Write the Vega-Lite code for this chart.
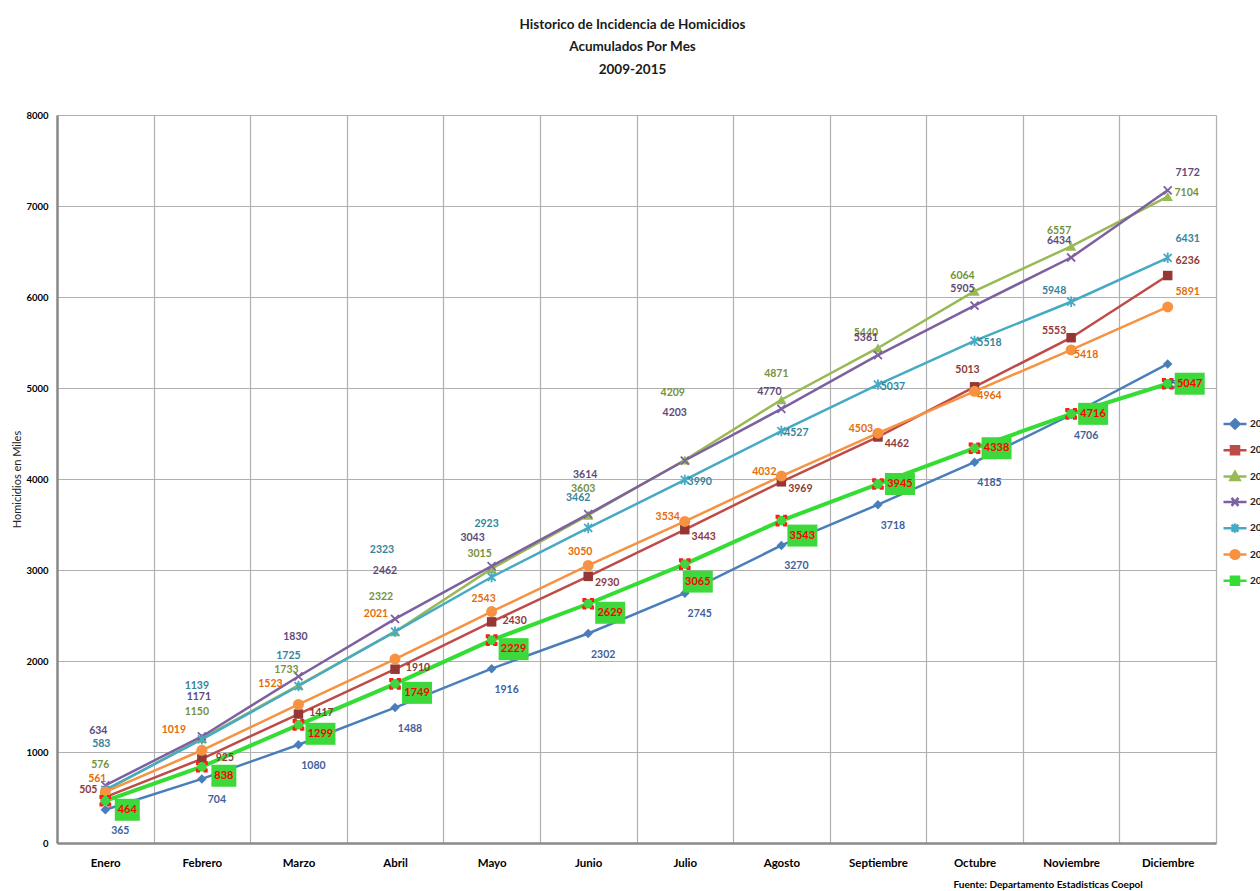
{
  "$schema": "https://vega.github.io/schema/vega-lite/v6.json",
  "width": 1159,
  "height": 728,
  "autosize": {"type": "none"},
  "padding": {"left": 57, "top": 115, "right": 44, "bottom": 48},
  "background": "white",
  "title": {
    "text": ["Historico de Incidencia de Homicidios", "Acumulados Por Mes", "2009-2015"],
    "font": "Lato",
    "fontSize": 13.5,
    "fontWeight": "bold",
    "lineHeight": 22.5,
    "offset": 34,
    "dx": -4,
    "color": "#1a1a1a",
    "anchor": "middle"
  },
  "data": {
    "values": [
      {"mes": "Enero", "year": "2009", "v": 365}, {"mes": "Febrero", "year": "2009", "v": 704}, {"mes": "Marzo", "year": "2009", "v": 1080}, {"mes": "Abril", "year": "2009", "v": 1488}, {"mes": "Mayo", "year": "2009", "v": 1916}, {"mes": "Junio", "year": "2009", "v": 2302}, {"mes": "Julio", "year": "2009", "v": 2745}, {"mes": "Agosto", "year": "2009", "v": 3270}, {"mes": "Septiembre", "year": "2009", "v": 3718}, {"mes": "Octubre", "year": "2009", "v": 4185}, {"mes": "Noviembre", "year": "2009", "v": 4706}, {"mes": "Diciembre", "year": "2009", "v": 5264},
      {"mes": "Enero", "year": "2010", "v": 505}, {"mes": "Febrero", "year": "2010", "v": 925}, {"mes": "Marzo", "year": "2010", "v": 1417}, {"mes": "Abril", "year": "2010", "v": 1910}, {"mes": "Mayo", "year": "2010", "v": 2430}, {"mes": "Junio", "year": "2010", "v": 2930}, {"mes": "Julio", "year": "2010", "v": 3443}, {"mes": "Agosto", "year": "2010", "v": 3969}, {"mes": "Septiembre", "year": "2010", "v": 4462}, {"mes": "Octubre", "year": "2010", "v": 5013}, {"mes": "Noviembre", "year": "2010", "v": 5553}, {"mes": "Diciembre", "year": "2010", "v": 6236},
      {"mes": "Enero", "year": "2011", "v": 576}, {"mes": "Febrero", "year": "2011", "v": 1150}, {"mes": "Marzo", "year": "2011", "v": 1733}, {"mes": "Abril", "year": "2011", "v": 2322}, {"mes": "Mayo", "year": "2011", "v": 3015}, {"mes": "Junio", "year": "2011", "v": 3603}, {"mes": "Julio", "year": "2011", "v": 4209}, {"mes": "Agosto", "year": "2011", "v": 4871}, {"mes": "Septiembre", "year": "2011", "v": 5440}, {"mes": "Octubre", "year": "2011", "v": 6064}, {"mes": "Noviembre", "year": "2011", "v": 6557}, {"mes": "Diciembre", "year": "2011", "v": 7104},
      {"mes": "Enero", "year": "2012", "v": 634}, {"mes": "Febrero", "year": "2012", "v": 1171}, {"mes": "Marzo", "year": "2012", "v": 1830}, {"mes": "Abril", "year": "2012", "v": 2462}, {"mes": "Mayo", "year": "2012", "v": 3043}, {"mes": "Junio", "year": "2012", "v": 3614}, {"mes": "Julio", "year": "2012", "v": 4203}, {"mes": "Agosto", "year": "2012", "v": 4770}, {"mes": "Septiembre", "year": "2012", "v": 5361}, {"mes": "Octubre", "year": "2012", "v": 5905}, {"mes": "Noviembre", "year": "2012", "v": 6434}, {"mes": "Diciembre", "year": "2012", "v": 7172},
      {"mes": "Enero", "year": "2013", "v": 583}, {"mes": "Febrero", "year": "2013", "v": 1139}, {"mes": "Marzo", "year": "2013", "v": 1725}, {"mes": "Abril", "year": "2013", "v": 2323}, {"mes": "Mayo", "year": "2013", "v": 2923}, {"mes": "Junio", "year": "2013", "v": 3462}, {"mes": "Julio", "year": "2013", "v": 3990}, {"mes": "Agosto", "year": "2013", "v": 4527}, {"mes": "Septiembre", "year": "2013", "v": 5037}, {"mes": "Octubre", "year": "2013", "v": 5518}, {"mes": "Noviembre", "year": "2013", "v": 5948}, {"mes": "Diciembre", "year": "2013", "v": 6431},
      {"mes": "Enero", "year": "2014", "v": 561}, {"mes": "Febrero", "year": "2014", "v": 1019}, {"mes": "Marzo", "year": "2014", "v": 1523}, {"mes": "Abril", "year": "2014", "v": 2021}, {"mes": "Mayo", "year": "2014", "v": 2543}, {"mes": "Junio", "year": "2014", "v": 3050}, {"mes": "Julio", "year": "2014", "v": 3534}, {"mes": "Agosto", "year": "2014", "v": 4032}, {"mes": "Septiembre", "year": "2014", "v": 4503}, {"mes": "Octubre", "year": "2014", "v": 4964}, {"mes": "Noviembre", "year": "2014", "v": 5418}, {"mes": "Diciembre", "year": "2014", "v": 5891},
      {"mes": "Enero", "year": "2015", "v": 464}, {"mes": "Febrero", "year": "2015", "v": 838}, {"mes": "Marzo", "year": "2015", "v": 1299}, {"mes": "Abril", "year": "2015", "v": 1749}, {"mes": "Mayo", "year": "2015", "v": 2229}, {"mes": "Junio", "year": "2015", "v": 2629}, {"mes": "Julio", "year": "2015", "v": 3065}, {"mes": "Agosto", "year": "2015", "v": 3543}, {"mes": "Septiembre", "year": "2015", "v": 3945}, {"mes": "Octubre", "year": "2015", "v": 4338}, {"mes": "Noviembre", "year": "2015", "v": 4716}, {"mes": "Diciembre", "year": "2015", "v": 5047}
    ]
  },
  "encoding": {
    "x": {
      "field": "mes",
      "type": "ordinal",
      "sort": ["Enero", "Febrero", "Marzo", "Abril", "Mayo", "Junio", "Julio", "Agosto", "Septiembre", "Octubre", "Noviembre", "Diciembre"],
      "scale": {"type": "band", "paddingInner": 0, "paddingOuter": 0},
      "axis": {
        "title": "Fuente: Departamento Estadisticas Coepol",
        "titleX": 896,
        "titleY": 41,
        "titleAlign": "left",
        "titleBaseline": "middle",
        "titleFont": "Lato",
        "titleFontSize": 10,
        "titleFontWeight": "bold",
        "titleColor": "#000000",
        "labelAngle": 0,
        "labelFont": "Lato",
        "labelFontSize": 11.5,
        "labelFontWeight": "bold",
        "labelColor": "#000000",
        "labelPadding": 14,
        "ticks": false,
        "tickBand": "extent",
        "grid": true,
        "gridColor": "#b0b0b0",
        "gridWidth": 1.2,
        "domainColor": "#8a8a8a",
        "domainWidth": 2.5
      }
    },
    "y": {
      "field": "v",
      "type": "quantitative",
      "scale": {"domain": [0, 8000], "nice": false},
      "axis": {
        "title": "Homicidios en Miles",
        "titleX": -40,
        "titleY": 364,
        "titleAngle": 270,
        "titleAlign": "center",
        "titleBaseline": "middle",
        "titleFont": "Lato",
        "titleFontSize": 11,
        "titleFontWeight": "normal",
        "titleColor": "#222222",
        "values": [0, 1000, 2000, 3000, 4000, 5000, 6000, 7000, 8000],
        "format": "d",
        "labelFont": "Lato",
        "labelFontSize": 9.5,
        "labelFontWeight": "bold",
        "labelColor": "#000000",
        "labelPadding": 9,
        "ticks": false,
        "grid": true,
        "gridColor": "#b0b0b0",
        "gridWidth": 1.2,
        "domainColor": "#8a8a8a",
        "domainWidth": 2.5
      }
    }
  },
  "layer": [
    {
      "mark": {"type": "line"},
      "encoding": {
        "color": {
          "field": "year",
          "type": "nominal",
          "scale": {
            "domain": ["2009", "2010", "2011", "2012", "2013", "2014", "2015"],
            "range": ["#4A7EBB", "#BE4B48", "#98B954", "#7D60A0", "#46AAC5", "#F69240", "#33DD33"]
          },
          "legend": {
            "title": null,
            "orient": "none",
            "legendX": 1165,
            "legendY": 296,
            "symbolSize": 529,
            "rowPadding": 3.3,
            "labelOffset": 2,
            "labelFont": "Lato",
            "labelFontSize": 10,
            "labelFontWeight": "bold",
            "labelColor": "#222222",
            "padding": 0,
            "encode": {
              "symbols": {
                "update": {
                  "shape": {"signal": "datum.value==='2009'?'M-1,0H1M0,-0.4L0.4,0L0,0.4L-0.4,0Z':datum.value==='2010'?'M-1,0H1M-0.35,-0.35H0.35V0.35H-0.35Z':datum.value==='2011'?'M-1,0H1M0,-0.42L0.4,0.3H-0.4Z':datum.value==='2012'?'M-1,0H1M-0.3,-0.35L0.3,0.35M-0.3,0.35L0.3,-0.35':datum.value==='2013'?'M-1,0H1M-0.3,-0.3L0.3,0.3M-0.3,0.3L0.3,-0.3M0,-0.4V0.4':datum.value==='2014'?'M-1,0H1M0.38,0A0.38,0.38,0,1,1,-0.38,0A0.38,0.38,0,1,1,0.38,0Z':'M-1,0H1M-0.35,-0.35H0.35V0.35H-0.35Z'"},
                  "fill": {"scale": "color", "field": "value"},
                  "stroke": {"scale": "color", "field": "value"},
                  "strokeWidth": {"value": 2.5},
                  "opacity": {"value": 1}
                }
              }
            }
          }
        },
        "strokeWidth": {"condition": {"test": "datum.year=='2015'", "value": 4}, "value": 2.5}
      }
    },
    {"transform": [{"filter": "datum.year=='2009'"}], "mark": {"type": "point", "shape": "diamond", "filled": true, "fill": "#4A7EBB", "opacity": 1, "size": 90}},
    {"transform": [{"filter": "datum.year=='2010'"}], "mark": {"type": "point", "shape": "square", "filled": true, "fill": "#953735", "opacity": 1, "size": 90}},
    {"transform": [{"filter": "datum.year=='2011'"}], "mark": {"type": "point", "shape": "triangle-up", "filled": true, "fill": "#98B954", "opacity": 1, "size": 110}},
    {"transform": [{"filter": "datum.year=='2012'"}], "mark": {"type": "point", "shape": "M-1,-1L1,1M-1,1L1,-1", "filled": false, "stroke": "#7D60A0", "strokeWidth": 1.8, "opacity": 1, "size": 64}},
    {"transform": [{"filter": "datum.year=='2013'"}], "mark": {"type": "point", "shape": "M-1,-1L1,1M-1,1L1,-1M0,-1.3V1.3", "filled": false, "stroke": "#46AAC5", "strokeWidth": 1.8, "opacity": 1, "size": 64}},
    {"transform": [{"filter": "datum.year=='2014'"}], "mark": {"type": "point", "shape": "circle", "filled": true, "fill": "#F69240", "opacity": 1, "size": 120}},
    {"transform": [{"filter": "datum.year=='2015'"}], "mark": {"type": "point", "shape": "square", "size": 90, "filled": true, "fill": "#3CD83C", "stroke": "#ff1a1a", "strokeWidth": 2.2, "strokeDash": [3, 3.5, 3, 0], "opacity": 1}},

    {"transform": [{"filter": "datum.year=='2009'"}], "mark": {"type": "text", "dx": 15, "dy": 21, "color": "#3F5F9C"}, "encoding": {"text": {"field": "v", "type": "quantitative", "format": "d"}}},

    {"transform": [{"filter": "datum.year=='2010' && indexof(['Febrero','Marzo','Abril','Mayo'], datum.mes) >= 0"}], "mark": {"type": "text", "dx": 23, "dy": -1, "color": "#8E3A38"}, "encoding": {"text": {"field": "v", "type": "quantitative", "format": "d"}}},
    {"transform": [{"filter": "datum.year=='2010' && indexof(['Junio','Julio','Agosto','Septiembre'], datum.mes) >= 0"}], "mark": {"type": "text", "dx": 19, "dy": 7, "color": "#8E3A38"}, "encoding": {"text": {"field": "v", "type": "quantitative", "format": "d"}}},
    {"transform": [{"filter": "datum.year=='2010' && indexof(['Enero','Noviembre'], datum.mes) >= 0"}], "mark": {"type": "text", "dx": -17, "dy": -7, "color": "#8E3A38"}, "encoding": {"text": {"field": "v", "type": "quantitative", "format": "d"}}},
    {"transform": [{"filter": "datum.year=='2010' && datum.mes=='Octubre'"}], "mark": {"type": "text", "dx": -7, "dy": -17, "color": "#8E3A38"}, "encoding": {"text": {"field": "v", "type": "quantitative", "format": "d"}}},
    {"transform": [{"filter": "datum.year=='2010' && datum.mes=='Diciembre'"}], "mark": {"type": "text", "dx": 20, "dy": -15, "color": "#8E3A38"}, "encoding": {"text": {"field": "v", "type": "quantitative", "format": "d"}}},

    {"transform": [{"filter": "datum.year=='2011' && indexof(['Enero','Febrero','Junio','Agosto'], datum.mes) >= 0"}], "mark": {"type": "text", "dx": -5, "dy": -26, "color": "#76923C"}, "encoding": {"text": {"field": "v", "type": "quantitative", "format": "d"}}},
    {"transform": [{"filter": "datum.year=='2011' && indexof(['Marzo','Mayo','Septiembre','Octubre','Noviembre'], datum.mes) >= 0"}], "mark": {"type": "text", "dx": -12, "dy": -15, "color": "#76923C"}, "encoding": {"text": {"field": "v", "type": "quantitative", "format": "d"}}},
    {"transform": [{"filter": "datum.year=='2011' && datum.mes=='Abril'"}], "mark": {"type": "text", "dx": -14, "dy": -35, "color": "#76923C"}, "encoding": {"text": {"field": "v", "type": "quantitative", "format": "d"}}},
    {"transform": [{"filter": "datum.year=='2011' && datum.mes=='Julio'"}], "mark": {"type": "text", "dx": -12, "dy": -67, "color": "#76923C"}, "encoding": {"text": {"field": "v", "type": "quantitative", "format": "d"}}},
    {"transform": [{"filter": "datum.year=='2011' && datum.mes=='Diciembre'"}], "mark": {"type": "text", "dx": 19, "dy": -4, "color": "#76923C"}, "encoding": {"text": {"field": "v", "type": "quantitative", "format": "d"}}},

    {"transform": [{"filter": "datum.year=='2012' && datum.mes=='Enero'"}], "mark": {"type": "text", "dx": -7, "dy": -54, "color": "#5F497A"}, "encoding": {"text": {"field": "v", "type": "quantitative", "format": "d"}}},
    {"transform": [{"filter": "datum.year=='2012' && indexof(['Abril','Julio'], datum.mes) >= 0"}], "mark": {"type": "text", "dx": -10, "dy": -48, "color": "#5F497A"}, "encoding": {"text": {"field": "v", "type": "quantitative", "format": "d"}}},
    {"transform": [{"filter": "datum.year=='2012' && indexof(['Febrero','Marzo','Junio'], datum.mes) >= 0"}], "mark": {"type": "text", "dx": -3, "dy": -39, "color": "#5F497A"}, "encoding": {"text": {"field": "v", "type": "quantitative", "format": "d"}}},
    {"transform": [{"filter": "datum.year=='2012' && datum.mes=='Mayo'"}], "mark": {"type": "text", "dx": -19, "dy": -28, "color": "#5F497A"}, "encoding": {"text": {"field": "v", "type": "quantitative", "format": "d"}}},
    {"transform": [{"filter": "datum.year=='2012' && indexof(['Agosto','Septiembre','Octubre','Noviembre'], datum.mes) >= 0"}], "mark": {"type": "text", "dx": -12, "dy": -17, "color": "#5F497A"}, "encoding": {"text": {"field": "v", "type": "quantitative", "format": "d"}}},
    {"transform": [{"filter": "datum.year=='2012' && datum.mes=='Diciembre'"}], "mark": {"type": "text", "dx": 20, "dy": -17, "color": "#5F497A"}, "encoding": {"text": {"field": "v", "type": "quantitative", "format": "d"}}},

    {"transform": [{"filter": "datum.year=='2013' && datum.mes=='Enero'"}], "mark": {"type": "text", "dx": -4, "dy": -46, "color": "#31859C"}, "encoding": {"text": {"field": "v", "type": "quantitative", "format": "d"}}},
    {"transform": [{"filter": "datum.year=='2013' && indexof(['Febrero','Mayo'], datum.mes) >= 0"}], "mark": {"type": "text", "dx": -5, "dy": -53, "color": "#31859C"}, "encoding": {"text": {"field": "v", "type": "quantitative", "format": "d"}}},
    {"transform": [{"filter": "datum.year=='2013' && indexof(['Marzo','Junio'], datum.mes) >= 0"}], "mark": {"type": "text", "dx": -10, "dy": -30, "color": "#31859C"}, "encoding": {"text": {"field": "v", "type": "quantitative", "format": "d"}}},
    {"transform": [{"filter": "datum.year=='2013' && datum.mes=='Abril'"}], "mark": {"type": "text", "dx": -13, "dy": -82, "color": "#31859C"}, "encoding": {"text": {"field": "v", "type": "quantitative", "format": "d"}}},
    {"transform": [{"filter": "datum.year=='2013' && indexof(['Julio','Agosto','Septiembre','Octubre'], datum.mes) >= 0"}], "mark": {"type": "text", "dx": 15, "dy": 2, "color": "#31859C"}, "encoding": {"text": {"field": "v", "type": "quantitative", "format": "d"}}},
    {"transform": [{"filter": "datum.year=='2013' && datum.mes=='Noviembre'"}], "mark": {"type": "text", "dx": -17, "dy": -11, "color": "#31859C"}, "encoding": {"text": {"field": "v", "type": "quantitative", "format": "d"}}},
    {"transform": [{"filter": "datum.year=='2013' && datum.mes=='Diciembre'"}], "mark": {"type": "text", "dx": 20, "dy": -19, "color": "#31859C"}, "encoding": {"text": {"field": "v", "type": "quantitative", "format": "d"}}},

    {"transform": [{"filter": "datum.year=='2014' && indexof(['Enero','Mayo','Junio'], datum.mes) >= 0"}], "mark": {"type": "text", "dx": -8, "dy": -13, "color": "#E46C0A"}, "encoding": {"text": {"field": "v", "type": "quantitative", "format": "d"}}},
    {"transform": [{"filter": "datum.year=='2014' && indexof(['Febrero','Marzo'], datum.mes) >= 0"}], "mark": {"type": "text", "dx": -28, "dy": -20, "color": "#E46C0A"}, "encoding": {"text": {"field": "v", "type": "quantitative", "format": "d"}}},
    {"transform": [{"filter": "datum.year=='2014' && datum.mes=='Abril'"}], "mark": {"type": "text", "dx": -19, "dy": -45, "color": "#E46C0A"}, "encoding": {"text": {"field": "v", "type": "quantitative", "format": "d"}}},
    {"transform": [{"filter": "datum.year=='2014' && indexof(['Julio','Agosto','Septiembre'], datum.mes) >= 0"}], "mark": {"type": "text", "dx": -17, "dy": -4, "color": "#E46C0A"}, "encoding": {"text": {"field": "v", "type": "quantitative", "format": "d"}}},
    {"transform": [{"filter": "datum.year=='2014' && indexof(['Octubre','Noviembre'], datum.mes) >= 0"}], "mark": {"type": "text", "dx": 15, "dy": 5, "color": "#E46C0A"}, "encoding": {"text": {"field": "v", "type": "quantitative", "format": "d"}}},
    {"transform": [{"filter": "datum.year=='2014' && datum.mes=='Diciembre'"}], "mark": {"type": "text", "dx": 20, "dy": -15, "color": "#E46C0A"}, "encoding": {"text": {"field": "v", "type": "quantitative", "format": "d"}}},

    {"transform": [{"filter": "datum.year=='2015' && indexof(['Enero','Febrero','Marzo','Abril','Mayo','Junio'], datum.mes) >= 0"}], "mark": {"type": "point", "filled": true, "fill": "#3CD83C", "size": 400, "opacity": 1, "strokeWidth": 0}, "encoding": {"shape": {"condition": {"test": "datum.v < 1000", "value": "M0.95,-0.2H3.45V2H0.95Z"}, "value": "M0.7,-0.2H3.7V2H0.7Z"}}},
    {"transform": [{"filter": "datum.year=='2015' && datum.mes=='Julio'"}], "mark": {"type": "point", "filled": true, "fill": "#3CD83C", "size": 400, "opacity": 1, "strokeWidth": 0, "shape": "M-0.2,0.65H2.8V2.85H-0.2Z"}},
    {"transform": [{"filter": "datum.year=='2015' && datum.mes=='Agosto'"}], "mark": {"type": "point", "filled": true, "fill": "#3CD83C", "size": 400, "opacity": 1, "strokeWidth": 0, "shape": "M0.6,0.4H3.6V2.6H0.6Z"}},
    {"transform": [{"filter": "datum.year=='2015' && indexof(['Septiembre','Octubre','Noviembre','Diciembre'], datum.mes) >= 0"}], "mark": {"type": "point", "filled": true, "fill": "#3CD83C", "size": 400, "opacity": 1, "strokeWidth": 0, "shape": "M0.7,-1.1H3.7V1.1H0.7Z"}},

    {"transform": [{"filter": "datum.year=='2015' && indexof(['Enero','Febrero','Marzo','Abril','Mayo','Junio'], datum.mes) >= 0"}], "mark": {"type": "text", "dx": 22, "dy": 9, "color": "#FF0000", "fontSize": 11}, "encoding": {"text": {"field": "v", "type": "quantitative", "format": "d"}}},
    {"transform": [{"filter": "datum.year=='2015' && datum.mes=='Julio'"}], "mark": {"type": "text", "dx": 13, "dy": 17.5, "color": "#FF0000", "fontSize": 11}, "encoding": {"text": {"field": "v", "type": "quantitative", "format": "d"}}},
    {"transform": [{"filter": "datum.year=='2015' && datum.mes=='Agosto'"}], "mark": {"type": "text", "dx": 21, "dy": 15, "color": "#FF0000", "fontSize": 11}, "encoding": {"text": {"field": "v", "type": "quantitative", "format": "d"}}},
    {"transform": [{"filter": "datum.year=='2015' && indexof(['Septiembre','Octubre','Noviembre','Diciembre'], datum.mes) >= 0"}], "mark": {"type": "text", "dx": 22, "dy": 0, "color": "#FF0000", "fontSize": 11}, "encoding": {"text": {"field": "v", "type": "quantitative", "format": "d"}}}
  ],
  "config": {
    "view": {"stroke": null},
    "text": {"font": "Lato", "fontSize": 10.5, "fontWeight": "bold", "align": "center", "baseline": "middle"}
  }
}
